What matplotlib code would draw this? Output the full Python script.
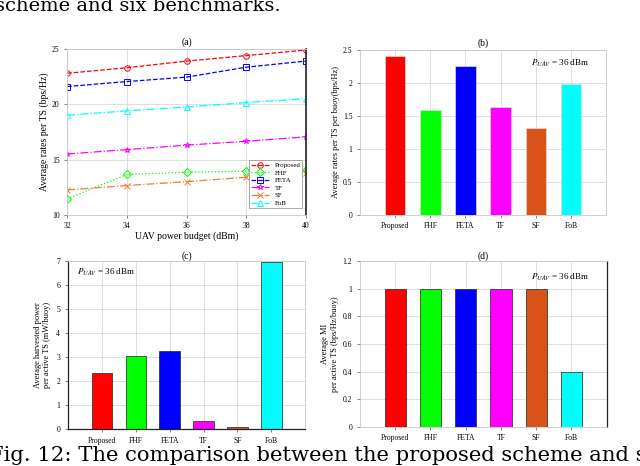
import matplotlib
matplotlib.use("Agg")
import matplotlib.pyplot as plt
import numpy as np

plt.rcParams["font.family"] = ["Liberation Serif", "DejaVu Serif"]
plt.rcParams["mathtext.fontset"] = "stix"

# --- data ---
power_budget = [32, 34, 36, 38, 40]
rate_proposed = [22.8, 23.3, 23.9, 24.4, 24.9]
rate_fhf = [11.45, 13.65, 13.85, 13.95, 14.05]
rate_feta = [21.6, 22.05, 22.45, 23.35, 23.9]
rate_tf = [15.5, 15.9, 16.3, 16.65, 17.05]
rate_sf = [12.25, 12.65, 13.0, 13.4, 13.8]
rate_fob = [19.0, 19.4, 19.75, 20.15, 20.5]

schemes = ["Proposed", "FHF", "FETA", "TF", "SF", "FoB"]
rate_per_buoy = [2.41, 1.59, 2.26, 1.63, 1.31, 1.98]
harvested_power = [2.32, 3.03, 3.25, 0.33, 0.08, 6.97]
mutual_info = [1.0, 1.0, 1.0, 1.0, 1.0, 0.4]

colors = ["#ff0000", "#00ff00", "#0000ff", "#ff00ff", "#d95319", "#00ffff"]

fig = plt.figure(figsize=(6.4, 4.66), dpi=100)
TICK_FS = 5.5
LAB_FS = 6
GRID = dict(color="#d9d9d9", linewidth=0.6)


def style_axes(ax):
    ax.tick_params(labelsize=TICK_FS, length=2, width=0.5, color="#555555")
    for s in ax.spines.values():
        s.set_color("#c8c8c8")
        s.set_linewidth(0.6)
    ax.grid(True, **GRID)
    ax.set_axisbelow(True)


# --- (a) ---
ax = fig.add_axes([0.105, 0.539, 0.373, 0.356])
series = [
    ("Proposed", rate_proposed, "#ff0000", "o", "--"),
    ("FHF", rate_fhf, "#00ff00", "D", ":"),
    ("FETA", rate_feta, "#0000ff", "s", "--"),
    ("TF", rate_tf, "#ff00ff", "*", "-."),
    ("SF", rate_sf, "#ed7d31", "x", "-."),
    ("FoB", rate_fob, "#00ffff", "^", "-."),
]
for name, vals, c, m, ls in series:
    ax.plot(power_budget, vals, color=c, marker=m, linestyle=ls, linewidth=0.9,
            markersize=4, markerfacecolor="none", markeredgewidth=0.7, label=name)
ax.set_xlim(32, 40)
ax.set_ylim(10, 25)
ax.set_xticks(power_budget)
ax.set_yticks([10, 15, 20, 25])
style_axes(ax)
ax.spines["right"].set_color("#222222")
ax.spines["right"].set_linewidth(1.2)
ax.set_xlabel("UAV power budget (dBm)", fontsize=7, labelpad=1)
ax.set_ylabel("Average rates per TS (bps/Hz)", fontsize=7, labelpad=2)
ax.set_title("(a)", fontsize=7, pad=3)
leg = ax.legend(loc="lower right", fontsize=5, handlelength=2.6, labelspacing=0.25,
                borderpad=0.3, fancybox=False, framealpha=1, edgecolor="#888888",
                bbox_to_anchor=(1.0, 0.02))
leg.get_frame().set_linewidth(0.5)

x = np.arange(1, len(schemes) + 1)
text_p = r"$P_{UAV}$ = 36 dBm"

# --- (b) ---
ax = fig.add_axes([0.5625, 0.539, 0.3845, 0.354])
ax.bar(x, rate_per_buoy, 0.58, color=colors, edgecolor="#dddddd", linewidth=0.5)
ax.set_xlim(0, 7)
ax.set_ylim(0, 2.5)
ax.set_xticks(x)
ax.set_xticklabels(schemes)
ax.set_yticks([0, 0.5, 1, 1.5, 2, 2.5])
ax.set_yticklabels(["0", "0.5", "1", "1.5", "2", "2.5"])
style_axes(ax)
ax.set_ylabel("Average rates per TS per buoy(bps/Hz)", fontsize=LAB_FS, labelpad=2)
ax.set_title("(b)", fontsize=7, pad=3)
ax.text(0.93, 0.92, text_p, transform=ax.transAxes, ha="right", va="center", fontsize=6.5)

# --- (c) ---
ax = fig.add_axes([0.106, 0.079, 0.371, 0.361])
ax.bar(x, harvested_power, 0.6, color=colors, edgecolor="#222222", linewidth=0.5)
ax.set_xlim(0, 7)
ax.set_ylim(0, 7)
ax.set_xticks(x)
ax.set_xticklabels(schemes)
ax.set_yticks(range(0, 8))
style_axes(ax)
ax.spines["left"].set_color("#222222")
ax.spines["bottom"].set_color("#222222")
ax.spines["left"].set_linewidth(0.9)
ax.spines["bottom"].set_linewidth(0.9)
ax.set_ylabel("Average harvested power\nper active TS (mW/buoy)", fontsize=LAB_FS, labelpad=4)
ax.set_title("(c)", fontsize=7, pad=1)
ax.text(0.04, 0.93, text_p, transform=ax.transAxes, ha="left", va="center", fontsize=6.5)

# --- (d) ---
ax = fig.add_axes([0.5625, 0.084, 0.3855, 0.356])
ax.bar(x, mutual_info, 0.6, color=colors, edgecolor="#222222", linewidth=0.5)
ax.set_xlim(0, 7)
ax.set_ylim(0, 1.2)
ax.set_xticks(x)
ax.set_xticklabels(schemes)
ax.set_yticks([0, 0.2, 0.4, 0.6, 0.8, 1, 1.2])
ax.set_yticklabels(["0", "0.2", "0.4", "0.6", "0.8", "1", "1.2"])
style_axes(ax)
ax.spines["right"].set_color("#222222")
ax.spines["right"].set_linewidth(0.9)
ax.set_ylabel("Average MI\nper active TS (bps/Hz/buoy)", fontsize=LAB_FS, labelpad=3)
ax.set_title("(d)", fontsize=7, pad=1)
ax.text(0.93, 0.9, text_p, transform=ax.transAxes, ha="right", va="center", fontsize=6.5)

# --- caption fragments, cropped at the edges as in the page scan ---
fig.text(-0.008, 1 - 11 / 466, "scheme and six benchmarks.", fontsize=14,
         family="DejaVu Serif", ha="left", va="baseline")
fig.text(-0.017, 1 - 461 / 466, "Fig. 12: The comparison between the proposed scheme and s",
         fontsize=15.2, family="DejaVu Serif", ha="left", va="baseline")

fig.savefig("out.png", dpi=100)
